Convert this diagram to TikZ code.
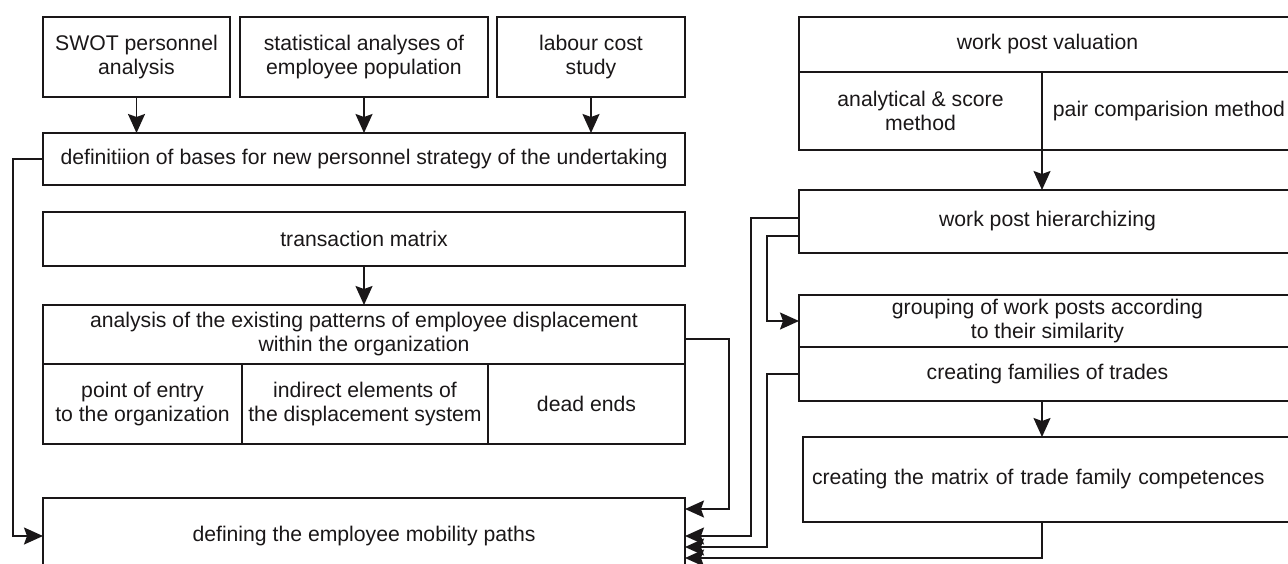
\documentclass[tikz,border=0pt]{standalone}
\usepackage{fontspec}
\setmainfont{Liberation Sans}
\usetikzlibrary{arrows.meta,calc}
\definecolor{ink}{HTML}{1A1718}
\begin{document}
\begin{tikzpicture}[x=1pt,y=-1pt,
  box/.style={draw=ink, line width=1.9pt, inner sep=0pt, outer sep=0pt, anchor=north west, align=center, font=\fontsize{21.2}{24}\selectfont, text=ink},
  arr/.style={draw=ink, line width=1.8pt, -{Stealth[length=19pt,width=17pt,inset=3pt]}}]
\useasboundingbox (0,0) rectangle (1288,563);
\clip (0,0) rectangle (1288,563);
% left column
\node[box, minimum width=187pt, minimum height=80pt] (swot) at (43,17) {SWOT personnel\\analysis};
\node[box, minimum width=248pt, minimum height=80pt] (stat) at (240,17) {statistical analyses of\\employee population};
\node[box, minimum width=188pt, minimum height=80pt] (lab) at (497,17) {labour cost\\study};
\node[box, minimum width=642pt, minimum height=52pt] (def) at (43,133) {definitiion of bases for new personnel strategy of the undertaking};
\node[box, minimum width=642pt, minimum height=54pt] (trans) at (43,212) {transaction matrix};
\node[box, minimum width=642pt, minimum height=59pt] (ana) at (43,305) {analysis of the existing patterns of employee displacement\\within the organization};
\node[box, minimum width=199pt, minimum height=80pt] (entry) at (43,364) {point of entry\\to the organization};
\node[box, minimum width=246pt, minimum height=80pt] (indir) at (242,364) {indirect elements of\\the displacement system};
\node[box, minimum width=197pt, minimum height=80pt] (dead) at (488,364) {dead ends};
\node[box, minimum width=642pt, minimum height=76pt] (defin) at (43,498) {defining the employee mobility paths};
% right column
\node[box, minimum width=497pt, minimum height=55pt] (val) at (799,17) {work post valuation};
\node[box, minimum width=243pt, minimum height=78pt] (valA) at (799,72) {analytical \& score\\method};
\node[box, minimum width=254pt, minimum height=78pt] (valB) at (1042,72) {pair comparision method};
\node[box, minimum width=497pt, minimum height=63pt] (hier) at (799,190) {work post hierarchizing};
\node[box, minimum width=497pt, minimum height=52pt] (grp) at (799,295) {grouping of work posts according\\to their similarity};
\node[box, minimum width=497pt, minimum height=54pt] (fam) at (799,347) {creating families of trades};
\node[box, text width=475pt, inner xsep=9pt, align=left, minimum height=85pt] (mat) at (803,437) {creating the matrix of trade family competences};
% connectors
\draw[arr] (swot.south) -- (swot.south |- def.north);
\draw[arr] (stat.south) -- (stat.south |- def.north);
\draw[arr] (lab.south) -- (lab.south |- def.north);
\draw[arr] (trans.south) -- (ana.north);
\draw[arr] (def.west) -- ++(-30pt,0pt) |- (defin.west);
\coordinate (ra) at (729,509);
\draw[arr] ($(ana.north east)+(0pt,-34pt)$) -| (ra) -- (ra -| defin.east);
\draw[arr] (valA.south east) -- (valA.south east |- hier.north);
\coordinate (h1) at ($(hier.north west)+(0pt,-28pt)$);
\coordinate (h2) at ($(hier.north west)+(0pt,-46pt)$);
\coordinate (x1) at (751,536);
\draw[arr] (h1) -| (x1) -- (x1 -| defin.east);
\coordinate (x2) at (767,0);
\draw[arr] (h2) -| (x2 |- grp.west) -- (grp.west);
\coordinate (x3) at (767,547);
\draw[arr] (fam.west) -| (x3) -- (x3 -| defin.east);
\draw[arr] (fam.south -| valA.south east) -- (mat.north -| valA.south east);
\coordinate (x4) at (1042,558);
\draw[arr] (mat.south -| x4) -- (x4) -- (x4 -| defin.east);
\end{tikzpicture}
\end{document}
